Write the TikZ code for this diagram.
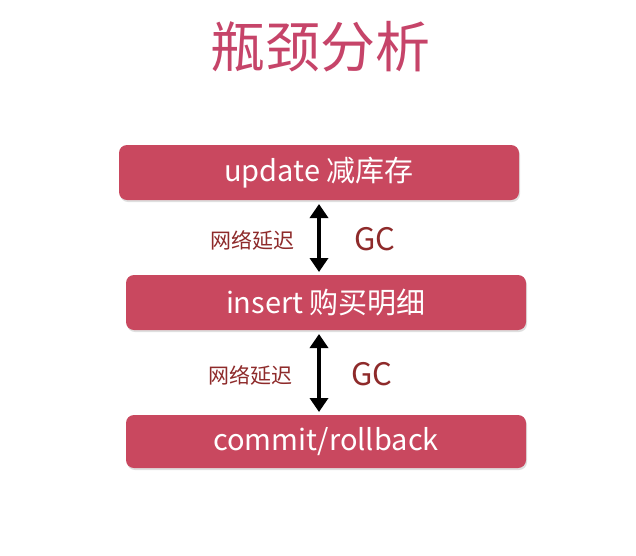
\documentclass[tikz,border=0pt]{standalone}
\usepackage{fontspec}
\setmainfont{Noto Sans CJK SC}
\usetikzlibrary{arrows.meta,shadows}
\definecolor{boxred}{HTML}{C9485F}
\definecolor{titlered}{HTML}{C64469}
\definecolor{labelred}{HTML}{8E2A2A}
\tikzset{
  stagebox/.style={draw=none, fill=boxred, rounded corners=8pt, minimum width=400pt, minimum height=55pt,
    text=white, font=\fontsize{29}{32}\selectfont, inner sep=0pt,
    drop shadow={shadow xshift=1pt, shadow yshift=-2pt, opacity=0.25, fill=gray}},
  link/.style={line width=3.5pt, {Triangle[length=14pt,width=18pt]}-{Triangle[length=14pt,width=18pt]}, black},
  netlabel/.style={text=labelred, font=\fontsize{21}{24}\selectfont, inner sep=0pt},
  gclabel/.style={text=labelred, font=\fontsize{31}{33}\selectfont, inner sep=0pt},
}
\begin{document}
\begin{tikzpicture}[x=1pt,y=-1pt]
\useasboundingbox[fill=white] (0,0) rectangle (636,555);
\node[text=titlered, font=\fontsize{55}{60}\selectfont, inner sep=0pt] (title) at (320,47) {瓶颈分析};
\node[stagebox] (b1) at (319,172.5) {update 减库存};
\node[stagebox] (b2) at (326,302.5) {insert 购买明细};
\node[stagebox, minimum height=53pt] (b3) at (326,441.5) {commit/rollback};
\coordinate (a1s) at (319,204);
\coordinate (a1e) at (319,272);
\coordinate (a2s) at (319,334);
\coordinate (a2e) at (319,412);
\draw[link] (a1s) -- (a1e);
\draw[link] (a2s) -- (a2e);
\node[netlabel] (n1) at (252,240) {网络延迟};
\node[gclabel] (g1) at (375,239) {GC};
\node[netlabel] (n2) at (250,375) {网络延迟};
\node[gclabel] (g2) at (372,374) {GC};
\end{tikzpicture}
\end{document}
